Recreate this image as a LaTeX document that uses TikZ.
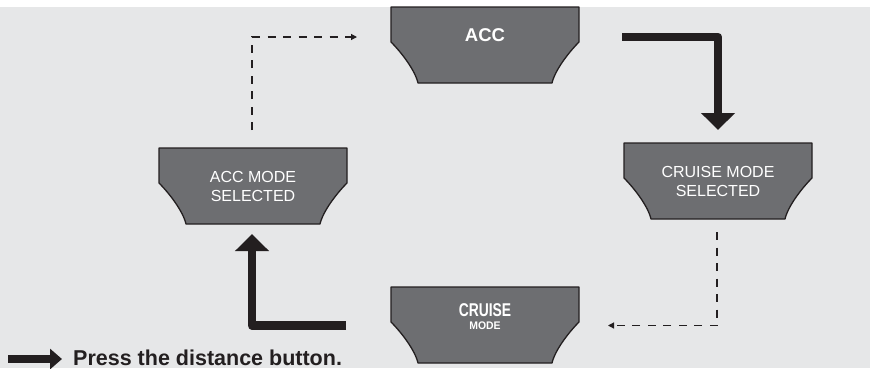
\documentclass[tikz,border=0pt]{standalone}
\usepackage{fontspec}
\setmainfont{Liberation Sans}
\usetikzlibrary{arrows.meta,calc}
\definecolor{bggray}{HTML}{E6E7E8}
\definecolor{boxgray}{HTML}{6D6E71}
\definecolor{ink}{HTML}{231F20}
\tikzset{
  tvbox/.pic={
    \filldraw[fill=boxgray,draw=ink,line width=1.3pt,line join=round]
      (-94,0) -- (94,0) -- (94,35)
      .. controls (84,45) and (70,63) .. (67,76)
      -- (-67,76)
      .. controls (-70,63) and (-84,45) .. (-94,35) -- cycle;
  },
  boxnode/.style={minimum width=188pt,minimum height=77pt,inner sep=0pt,outer sep=0pt},
  lbl/.style={text=white,align=center,inner sep=0pt,font=\fontsize{16}{18.5}\selectfont},
  dashconn/.style={draw=ink,line width=1.2pt,dash pattern=on 8pt off 7.5pt,
    -{Triangle[width=6pt,length=6pt]}},
  boldconn/.style={draw=ink,line width=8.5pt,line join=round,
    -{Triangle[width=33pt,length=17pt]}}
}
\begin{document}
\begin{tikzpicture}[x=1pt,y=-1pt]
\useasboundingbox (0,0) rectangle (870,368);
\fill[bggray] (0,7) rectangle (870,368);

% boxes
\node[boxnode] (acc) at (485,45.5) {};
\pic at (acc.north) {tvbox};
\node[lbl,font=\fontsize{18.5}{20}\selectfont\bfseries] (acctxt) at ([yshift=10.5pt]acc.center) {ACC};

\node[boxnode] (accsel) at (253,186.5) {};
\pic at (accsel.north) {tvbox};
\node[lbl] (accseltxt) at (accsel.center) {ACC MODE\\SELECTED};

\node[boxnode] (cruisesel) at (718,181.5) {};
\pic at (cruisesel.north) {tvbox};
\node[lbl] (cruiseseltxt) at (cruisesel.center) {CRUISE MODE\\SELECTED};

\node[boxnode] (cruise) at (485,325.5) {};
\pic at (cruise.north) {tvbox};
\node[lbl,font=\fontsize{18.5}{20}\selectfont\bfseries,xscale=0.75] (cruisetxt) at (485,310) {CRUISE};
\node[lbl,font=\fontsize{11}{12}\selectfont\bfseries,xscale=0.95] (modetxt) at (485,326) {MODE};

% connectors
\draw[dashconn] ($(accsel.north)+(-1,-18)$) |- ($(acc.north west)+(-34,30)$);
\draw[boldconn] ($(acc.north east)+(43,30)$) -| ($(cruisesel.north)+(0,-13)$);
\draw[dashconn] ($(cruisesel.south)+(-1,12)$) |- ($(cruise.east)+(29,0)$);
\draw[boldconn] ($(cruise.west)+(-45,0)$) -| ($(accsel.south)+(-1,9)$);

% legend
\node[anchor=base west,inner sep=0pt,text=ink,font=\fontsize{21.5}{23}\selectfont\bfseries] (legend) at (73,365) {Press the distance button.};
\coordinate (legstart) at (8,359);
\draw[draw=ink,line width=8pt,shorten >=11pt,-{Triangle[width=20pt,length=12pt]}] (legstart) -- (legend.west |- legstart);
\end{tikzpicture}
\end{document}
